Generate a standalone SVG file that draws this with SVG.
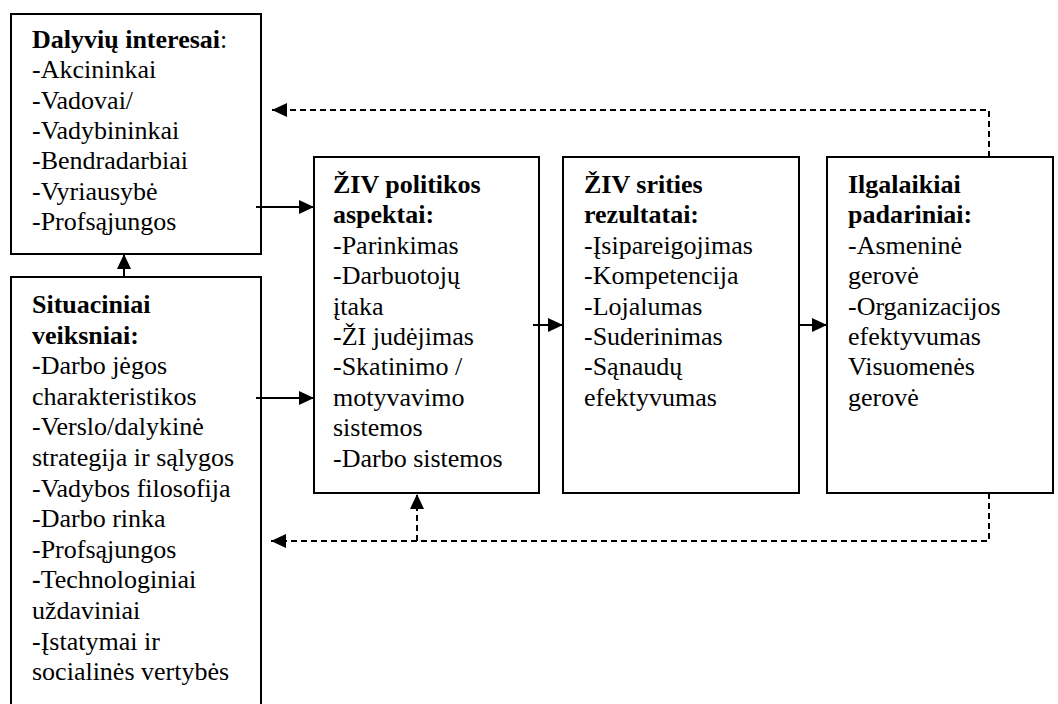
<svg xmlns="http://www.w3.org/2000/svg" width="1058" height="704" viewBox="0 0 1058 704">
<style>
text{font-family:'Liberation Serif','Times New Roman',serif;font-size:26px;fill:#000}
.b{font-weight:bold}
.box{fill:#fff;stroke:#000;stroke-width:2}
.c{fill:none;stroke:#000;stroke-width:2}
.d{stroke-dasharray:6 4}
</style>
<defs>
<marker id="ah" markerUnits="userSpaceOnUse" markerWidth="15" markerHeight="14" refX="15" refY="7" orient="auto">
<path d="M0,0 L15,7 L0,14 z" fill="#000"/>
</marker>
</defs>
<rect width="1058" height="704" fill="#fff"/>
<g id="n-dalyviu">
<rect class="box" x="11" y="14" width="250" height="240"/>
<text x="32" y="48"><tspan class="b">Dalyvių interesai</tspan>:</text>
<text x="32" y="78.3">-Akcininkai</text>
<text x="32" y="108.6">-Vadovai/</text>
<text x="32" y="138.9">-Vadybininkai</text>
<text x="32" y="169.2">-Bendradarbiai</text>
<text x="32" y="199.5">-Vyriausybė</text>
<text x="32" y="229.8">-Profsąjungos</text>
</g>
<g id="n-situaciniai">
<rect class="box" x="11" y="277" width="250" height="440"/>
<text class="b" x="32" y="313">Situaciniai</text>
<text class="b" x="32" y="343.6">veiksniai:</text>
<text x="32" y="374.2"><tspan class="b">-</tspan>Darbo jėgos</text>
<text x="32" y="404.8">charakteristikos</text>
<text x="32" y="435.4">-Verslo/dalykinė</text>
<text x="32" y="466">strategija ir sąlygos</text>
<text x="32" y="496.6">-Vadybos filosofija</text>
<text x="32" y="527.2">-Darbo rinka</text>
<text x="32" y="557.8">-Profsąjungos</text>
<text x="32" y="588.4"><tspan class="b">-</tspan>Technologiniai</text>
<text x="32" y="619">uždaviniai</text>
<text x="32" y="649.6">-Įstatymai ir</text>
<text x="32" y="680.2">socialinės vertybės</text>
</g>
<g id="n-politika">
<rect class="box" x="314" y="157" width="225" height="336"/>
<text class="b" x="333" y="193">ŽIV politikos</text>
<text class="b" x="333" y="223.4">aspektai:</text>
<text x="333" y="253.8">-Parinkimas</text>
<text x="333" y="284.2">-Darbuotojų</text>
<text x="333" y="314.6">įtaka</text>
<text x="333" y="345">-ŽI judėjimas</text>
<text x="333" y="375.4">-Skatinimo /</text>
<text x="333" y="405.8">motyvavimo</text>
<text x="333" y="436.2">sistemos</text>
<text x="333" y="466.6">-Darbo sistemos</text>
</g>
<g id="n-rezultatai">
<rect class="box" x="563" y="157" width="236" height="336"/>
<text class="b" x="584" y="193">ŽIV srities</text>
<text class="b" x="584" y="223.4">rezultatai:</text>
<text x="584" y="253.8">-Įsipareigojimas</text>
<text x="584" y="284.2">-Kompetencija</text>
<text x="584" y="314.6">-Lojalumas</text>
<text x="584" y="345">-Suderinimas</text>
<text x="584" y="375.4">-Sąnaudų</text>
<text x="584" y="405.8">efektyvumas</text>
</g>
<g id="n-padariniai">
<rect class="box" x="827" y="157" width="226" height="336"/>
<text class="b" x="848" y="193">Ilgalaikiai</text>
<text class="b" x="848" y="223.4">padariniai:</text>
<text x="848" y="253.8">-Asmeninė</text>
<text x="848" y="284.2">gerovė</text>
<text x="848" y="314.6">-Organizacijos</text>
<text x="848" y="345">efektyvumas</text>
<text x="848" y="375.4">Visuomenės</text>
<text x="848" y="405.8">gerovė</text>
</g>
<g id="connectors">
<line class="c" x1="256" y1="207" x2="314" y2="207" marker-end="url(#ah)"/>
<line class="c" x1="256" y1="398" x2="314" y2="398" marker-end="url(#ah)"/>
<line class="c" x1="533" y1="325" x2="563" y2="325" marker-end="url(#ah)"/>
<line class="c" x1="799" y1="325" x2="827" y2="325" marker-end="url(#ah)"/>
<line class="c" x1="124" y1="277" x2="124" y2="254" marker-end="url(#ah)"/>
<path class="c d" d="M989,157 V110 H272" marker-end="url(#ah)"/>
<path class="c d" d="M989,493 V541 H271" marker-end="url(#ah)"/>
<path class="c d" d="M417,541 V494" marker-end="url(#ah)"/>
</g>
</svg>
